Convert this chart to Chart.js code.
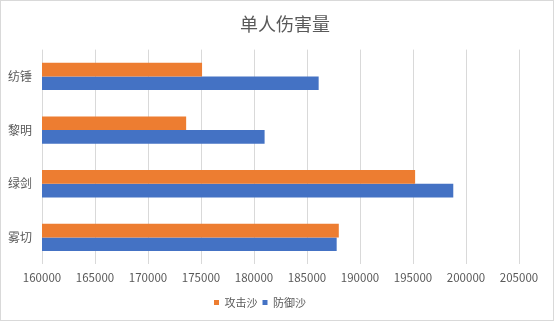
<!DOCTYPE html>
<html>
<head>
<meta charset="utf-8">
<script src="https://cdn.jsdelivr.net/npm/chart.js@4"></script>
<style>
  body { margin: 0; background: #fff; }
  #wrap { width: 554px; height: 321px; box-sizing: border-box; border: 1px solid #d9d9d9; }
</style>
</head>
<body>
<div id="wrap"><canvas id="dmgChart" width="552" height="319"></canvas></div>
<script>
/* ================= DATA ================= */
const weapons = ["纺锤", "黎明", "绿剑", "雾切"];
const atkSand = [175100, 173600, 195200, 188000];
const defSand = [186100, 181000, 198800, 187800];

const FONT = "'Noto Sans CJK SC', 'Noto Sans', sans-serif";
const GREY = "#595959";

// the title sits a bit right of the plot centre in the original
const shiftTitle = {
  id: "shiftTitle",
  afterLayout(chart) {
    const t = chart.titleBlock;
    if (t) { t.left = 0; t.right = 568; }
  }
};

/* ================= CHART ================= */
new Chart(document.getElementById("dmgChart"), {
  type: "bar",
  data: {
    labels: weapons,
    datasets: [{
      label: "攻击沙",
      data: atkSand,
      backgroundColor: "#ED7D31",
      categoryPercentage: 0.51,
      barPercentage: 1.0
    }, {
      label: "防御沙",
      data: defSand,
      backgroundColor: "#4472C4",
      categoryPercentage: 0.51,
      barPercentage: 1.0
    }]
  },
  options: {
    indexAxis: "y",
    responsive: false,
    animation: false,
    layout: { padding: { left: 0, right: 34, bottom: 2 } },
    plugins: {
      title: {
        display: true,
        text: "单人伤害量",
        color: GREY,
        font: { family: FONT, size: 18, weight: "normal" },
        padding: { top: 12, bottom: 15 }
      },
      legend: {
        position: "bottom",
        labels: {
          color: GREY,
          font: { family: FONT, size: 11 },
          boxWidth: 5,
          boxHeight: 5,
          padding: 5
        }
      },
      tooltip: { enabled: false }
    },
    scales: {
      x: {
        min: 160000,
        max: 205000,
        ticks: {
          stepSize: 5000,
          color: GREY,
          font: { family: FONT, size: 11.5 },
          padding: 7,
          maxRotation: 0,
          autoSkip: false,
          callback: v => String(v)
        },
        grid: { color: "#d9d9d9", drawTicks: false },
        border: { display: false }
      },
      y: {
        ticks: {
          color: GREY,
          font: { family: FONT, size: 12 },
          padding: 10
        },
        grid: { display: false, drawTicks: false },
        border: { display: false },
        afterFit: function (scale) { scale.width = 41; }
      }
    }
  },
  plugins: [shiftTitle]
});
</script>
</body>
</html>
